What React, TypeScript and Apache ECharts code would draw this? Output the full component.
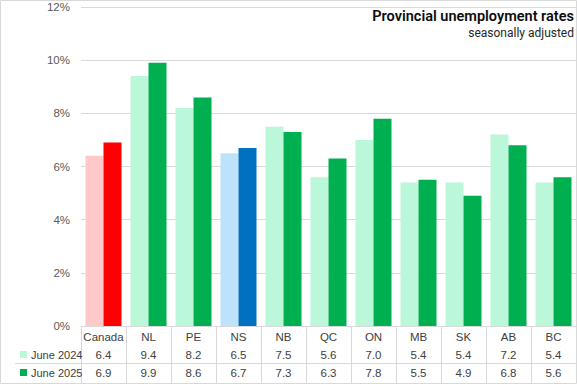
import React, { useEffect, useRef } from "react";
import * as echarts from "echarts";

const categories = ["Canada", "NL", "PE", "NS", "NB", "QC", "ON", "MB", "SK", "AB", "BC"];
const june2024 = [6.4, 9.4, 8.2, 6.5, 7.5, 5.6, 7.0, 5.4, 5.4, 7.2, 5.4];
const june2025 = [6.9, 9.9, 8.6, 6.7, 7.3, 6.3, 7.8, 5.5, 4.9, 6.8, 5.6];
const seriesNames = ["June 2024", "June 2025"];
const yTicks = [0, 2, 4, 6, 8, 10, 12];

const light2024: Record<string, string> = { Canada: "#ffc9c9", NS: "#bde2fb" };
const dark2025: Record<string, string> = { Canada: "#ff0000", NS: "#0070c0" };
const LIGHT = "#bbf7d9";
const DARK = "#00b050";

export default function App() {
  const ref = useRef<HTMLDivElement>(null);
  useEffect(() => {
    document.body.style.margin = "0";
    const chart = echarts.init(ref.current!, null, { renderer: "svg" });
    const font = "'Liberation Sans', Arial, sans-serif";
    const tableLabel = { color: "#404040", fontSize: 11.5, fontFamily: font, margin: 5 };
    chart.setOption({
      animation: false,
      backgroundColor: "#ffffff",
      title: [
        {
          text: "Provincial unemployment rates",
          right: 3,
          top: 9,
          padding: 0,
          textStyle: { fontFamily: "Roboto, sans-serif", fontWeight: 600, fontSize: 14.5, color: "#0d0d0d" },
        },
        {
          text: "seasonally adjusted",
          right: 3,
          top: 27,
          padding: 0,
          textStyle: { fontFamily: "Roboto, sans-serif", fontWeight: "normal", fontSize: 12, color: "#262626" },
        },
      ],
      legend: {
        data: seriesNames,
        orient: "vertical",
        left: 20,
        top: 348,
        height: 40,
        padding: 0,
        itemWidth: 7,
        itemHeight: 7,
        itemGap: 5,
        icon: "rect",
        textStyle: { fontFamily: font, fontSize: 11, color: "#404040", lineHeight: 13, padding: [0, 0, 0, -1] },
        selectedMode: false,
      },
      grid: { left: 81, right: 1, top: 7, bottom: 58 },
      yAxis: {
        type: "value",
        min: yTicks[0],
        max: yTicks[yTicks.length - 1],
        interval: 2,
        axisLabel: { formatter: "{value}%", color: "#595959", fontSize: 11.5, fontFamily: font, margin: 11 },
        splitLine: { lineStyle: { color: "#d9d9d9", width: 1 } },
        axisLine: { show: false },
        axisTick: { show: false },
      },
      xAxis: [
        {
          type: "category",
          data: categories,
          position: "bottom",
          axisLine: { lineStyle: { color: "#d9d9d9" } },
          axisTick: { show: true, length: 57, interval: 0, lineStyle: { color: "#d9d9d9" } },
          axisLabel: { ...tableLabel, interval: 0 },
        },
        {
          type: "category",
          data: june2024.map((v) => v.toFixed(1)),
          position: "bottom",
          offset: 18,
          axisLine: { show: false },
          axisTick: { show: false },
          axisLabel: { ...tableLabel, interval: 0 },
        },
        {
          type: "category",
          data: june2025.map((v) => v.toFixed(1)),
          position: "bottom",
          offset: 36,
          axisLine: { show: false },
          axisTick: { show: false },
          axisLabel: { ...tableLabel, interval: 0 },
        },
      ],
      series: [
        {
          name: seriesNames[0],
          type: "bar",
          xAxisIndex: 0,
          barCategoryGap: "20%",
          barGap: "0%",
          itemStyle: { color: LIGHT },
          data: june2024.map((v, i) => ({ value: v, itemStyle: { color: light2024[categories[i]] || LIGHT } })),
        },
        {
          name: seriesNames[1],
          type: "bar",
          xAxisIndex: 0,
          barCategoryGap: "20%",
          barGap: "0%",
          itemStyle: { color: DARK },
          data: june2025.map((v, i) => ({ value: v, itemStyle: { color: dark2025[categories[i]] || DARK } })),
        },
      ],
      graphic: [
        { type: "line", shape: { x1: 15, y1: 363.5, x2: 576, y2: 363.5 }, style: { stroke: "#d9d9d9", lineWidth: 1 } },
        { type: "rect", shape: { x: 0.5, y: 0.5, width: 576, height: 383 }, style: { fill: "none", stroke: "#d9d9d9", lineWidth: 1 } },
      ],
    });
    return () => chart.dispose();
  }, []);
  return <div ref={ref} style={{ width: 577, height: 384 }} />;
}
